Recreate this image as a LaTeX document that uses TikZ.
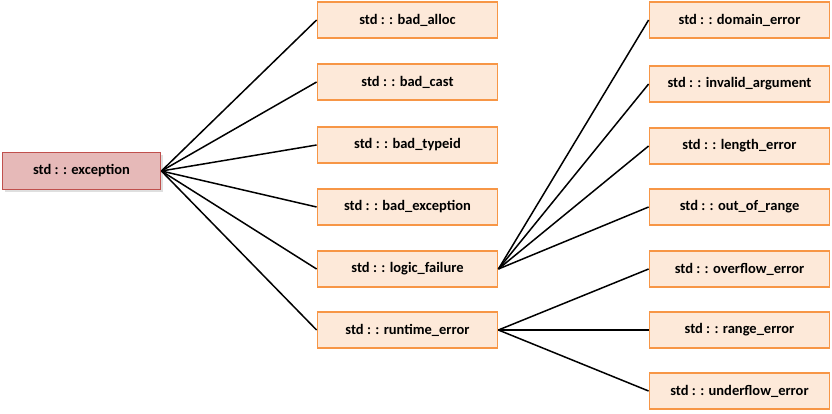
\documentclass[tikz,border=0pt]{standalone}
\usepackage{fontspec}
\setmainfont{Carlito}
\usetikzlibrary{shadows}

\begin{document}
\begin{tikzpicture}[x=1pt,y=-1pt,
  rootbox/.style={draw=colRootLine, fill=colRoot, line width=1.8pt, minimum width=158pt, minimum height=37pt, inner sep=0pt, font=\fontsize{14.5}{16}\selectfont\bfseries, drop shadow={shadow xshift=2pt, shadow yshift=-2pt, fill=black!25}},
  leafbox/.style={draw=colLeafLine, fill=colLeaf, line width=1.8pt, minimum width=180pt, minimum height=36pt, inner sep=0pt, font=\fontsize{14.5}{16}\selectfont\bfseries},
  link/.style={black, line width=1.5pt}]

% Colori
\definecolor{colRoot}{HTML}{E6B9B8}
\definecolor{colRootLine}{HTML}{C0504D}
\definecolor{colLeaf}{HTML}{FDE9D9}
\definecolor{colLeafLine}{HTML}{F79646}

\useasboundingbox (0,0) rectangle (832,413);

% Radice
\node[rootbox] (exception) at (81.5,171) {std : : exception};

% Primo livello
\node[leafbox] (badalloc) at (407.5,20) {std : : bad\_alloc};
\node[leafbox] (badcast) at (407.5,82) {std : : bad\_cast};
\node[leafbox] (badtypeid) at (407.5,145) {std : : bad\_typeid};
\node[leafbox] (badexception) at (407.5,207) {std : : bad\_exception};
\node[leafbox] (logic) at (407.5,269) {std : : logic\_failure};
\node[leafbox] (runtime) at (407.5,330) {std : : runtime\_error};

% Secondo livello
\node[leafbox] (domain) at (739.5,20) {std : : domain\_error};
\node[leafbox] (invalid) at (739.5,84) {std : : invalid\_argument};
\node[leafbox] (length) at (739.5,146) {std : : length\_error};
\node[leafbox] (outofrange) at (739.5,207) {std : : out\_of\_range};
\node[leafbox] (overflow) at (739.5,269) {std : : overflow\_error};
\node[leafbox] (range) at (739.5,330) {std : : range\_error};
\node[leafbox] (underflow) at (739.5,391) {std : : underflow\_error};

% Collegamenti
\draw[link] (exception.east) -- (badalloc.west);
\draw[link] (exception.east) -- (badcast.west);
\draw[link] (exception.east) -- (badtypeid.west);
\draw[link] (exception.east) -- (badexception.west);
\draw[link] (exception.east) -- (logic.west);
\draw[link] (exception.east) -- (runtime.west);

\draw[link] (logic.east) -- (domain.west);
\draw[link] (logic.east) -- (invalid.west);
\draw[link] (logic.east) -- (length.west);
\draw[link] (logic.east) -- (outofrange.west);

\draw[link] (runtime.east) -- (overflow.west);
\draw[link] (runtime.east) -- (range.west);
\draw[link] (runtime.east) -- (underflow.west);

\end{tikzpicture}
\end{document}
